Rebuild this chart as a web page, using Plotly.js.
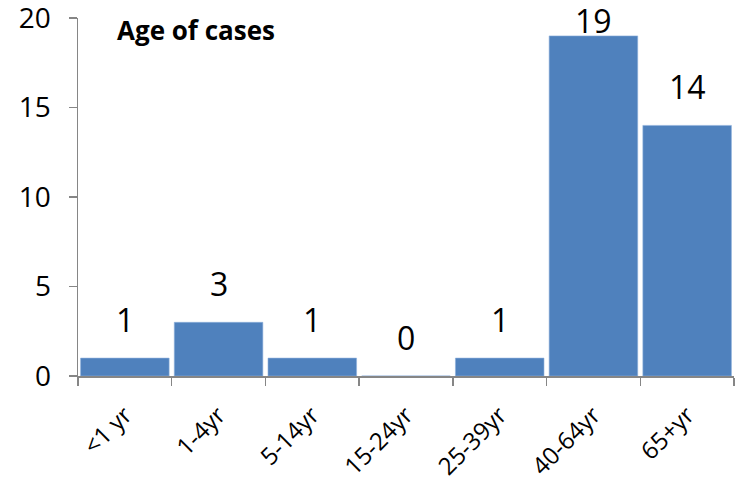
<!DOCTYPE html>
<html>
<head>
<meta charset="utf-8">
<script src="https://cdn.plot.ly/plotly-3.0.1.min.js"></script>
<style>html,body{margin:0;padding:0;background:#fff}#chart{width:740px;height:490px}</style>
</head>
<body>
<div id="chart"></div>
<script>
const categories = ['<1 yr', '1-4yr', '5-14yr', '15-24yr', '25-39yr', '40-64yr', '65+yr'];
const cases = [1, 3, 1, 0, 1, 19, 14];
const yTicks = [0, 5, 10, 15, 20];
const chartTitle = 'Age of cases';

const FONT = '"Open Sans", Lato, sans-serif';
const yMax = 20;
const M = {l: 78, r: 6, t: 18, b: 114};
const H = 490;
const plotH = H - M.t - M.b;
const pxOf = v => M.t + (1 - v / yMax) * plotH;
const labelGap = 21, minBaseline = 38, descent = 6;

const annotations = categories.map((c, i) => {
  const v = cases[i];
  const gap = Math.min(labelGap, pxOf(v) - minBaseline);
  return {x: c, xref: 'x', y: v, yref: 'y', yanchor: 'bottom', yshift: gap - descent,
          text: String(v), showarrow: false, font: {family: FONT, size: 32, color: '#000'}};
});
annotations.push({
  x: (115 - M.l) / (740 - M.l - M.r), xref: 'paper', y: 1, yref: 'paper', xanchor: 'left', yanchor: 'top', yshift: 8,
  text: '<b>' + chartTitle + '</b>', showarrow: false,
  font: {family: FONT, size: 26, color: '#000'}
});

const data = [{
  type: 'bar',
  x: categories,
  y: cases,
  marker: {color: '#4F81BD', line: {color: '#8DB0DC', width: 0.6}},
  hoverinfo: 'skip'
}];

const layout = {
  width: 740, height: H,
  margin: M,
  paper_bgcolor: '#fff', plot_bgcolor: '#fff',
  bargap: 0.055,
  showlegend: false,
  font: {family: FONT, size: 24, color: '#000'},
  xaxis: {
    type: 'category',
    tickangle: -45,
    showline: true, linecolor: '#868686', linewidth: 1.5,
    ticks: 'outside', ticklen: 8, tickcolor: '#868686', tickwidth: 1.5,
    tickson: 'boundaries',
    ticklabelstandoff: 14,
    ticklabeloverflow: 'allow',
    showgrid: false, zeroline: false,
    tickfont: {family: FONT, size: 24, color: '#000'},
    fixedrange: true
  },
  yaxis: {
    range: [0, yMax],
    tickvals: yTicks,
    showline: true, linecolor: '#868686', linewidth: 1.5,
    ticks: 'outside', ticklen: 8, tickcolor: '#868686', tickwidth: 1.5,
    ticklabelstandoff: 12,
    ticklabeloverflow: 'allow',
    showgrid: false, zeroline: false,
    tickfont: {family: FONT, size: 28, color: '#000'},
    fixedrange: true
  },
  annotations: annotations
};

Plotly.newPlot('chart', data, layout, {displayModeBar: false, staticPlot: true});
</script>
</body>
</html>
